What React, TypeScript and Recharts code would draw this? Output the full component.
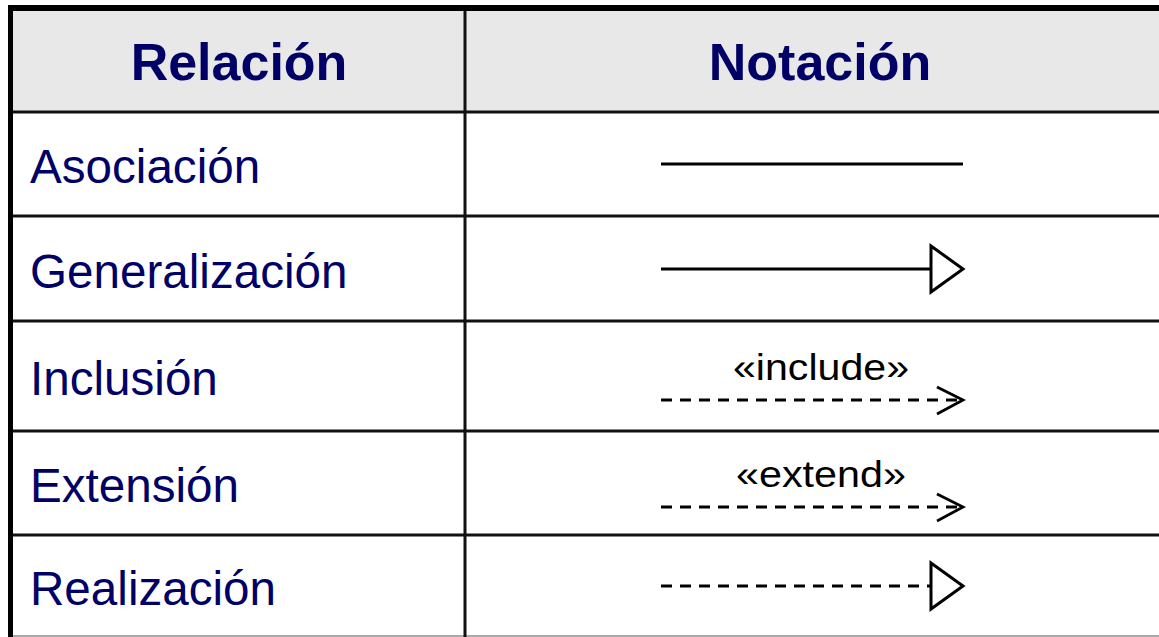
import { ComposedChart, XAxis, YAxis, Scatter, ReferenceLine, ReferenceArea } from 'recharts';

const headers = ['Relación', 'Notación'];
const relations = ['Asociación', 'Generalización', 'Inclusión', 'Extensión', 'Realización'];
const lineKinds = ['solid', 'solid', 'dashed', 'dashed', 'dashed'];
const headKinds = ['none', 'triangle', 'open', 'open', 'triangle'];
const stereotypes = ['', '', '«include»', '«extend»', ''];

// layout (pixel space, the axes map 1:1 onto the svg)
const W = 1159;
const H = 637;
const rowEdges = [11, 112, 216, 321, 431, 535, 636];
const colSplit = 465;
const headerCenters = [239, 820];
const lineStart = 661;
const lineEnd = 963;
const stereoCenter = 821;
const navy = '#000066';
const font = '"Liberation Sans", Arial, Helvetica, sans-serif';

const rowCenter = (i: number) => (rowEdges[i + 1] + rowEdges[i + 2]) / 2;

const headerData = headers.map((h, i) => ({ x: headerCenters[i], y: 80, label: h }));
const labelData = relations.map((r, i) => ({ x: 30, y: rowCenter(i) + 19, label: r }));
const notationData = relations.map((r, i) => ({
  x: lineStart,
  y: Math.round(rowCenter(i) + (stereotypes[i] ? 24 : 0)),
  kind: lineKinds[i],
  head: headKinds[i],
  stereo: stereotypes[i],
}));

const HeaderText = (props: any) => (
  <text x={props.cx} y={props.cy} textAnchor="middle" fill={navy} fontFamily={font} fontWeight="bold" fontSize={52}>
    {props.payload.label}
  </text>
);

const RowText = (props: any) => (
  <text x={props.cx} y={props.cy} textAnchor="start" fill={navy} fontFamily={font} fontSize={47.6}>
    {props.payload.label}
  </text>
);

const Notation = (props: any) => {
  const { cx, cy, payload } = props;
  const len = lineEnd - lineStart;
  const tip = cx + len;
  const dash = payload.kind === 'dashed' ? '11 8' : undefined;
  let shaftEnd = tip;
  let head = null;
  if (payload.head === 'triangle') {
    shaftEnd = tip - 32;
    head = (
      <polygon
        points={`${tip - 32},${cy - 23} ${tip},${cy} ${tip - 32},${cy + 23}`}
        fill="#fff"
        stroke="#000"
        strokeWidth={3}
      />
    );
  } else if (payload.head === 'open') {
    shaftEnd = tip - 4;
    head = (
      <polyline
        points={`${tip - 26},${cy - 13} ${tip},${cy} ${tip - 26},${cy + 14}`}
        fill="none"
        stroke="#000"
        strokeWidth={2.8}
      />
    );
  }
  const textW = payload.stereo === '«include»' ? 176 : 170;
  return (
    <g>
      <line x1={cx} y1={cy} x2={shaftEnd} y2={cy} stroke="#000" strokeWidth={3} strokeDasharray={dash} />
      {head}
      {payload.stereo ? (
        <text
          x={cx + (stereoCenter - lineStart)}
          y={cy - 20}
          textAnchor="middle"
          fill="#000"
          fontFamily={font}
          fontSize={37}
          textLength={textW}
          lengthAdjust="spacingAndGlyphs"
        >
          {payload.stereo}
        </text>
      ) : null}
    </g>
  );
};

export default function App() {
  return (
    <div style={{ position: 'absolute', left: 0, top: 0, background: '#fff' }}>
      <ComposedChart width={W} height={H} margin={{ top: 0, right: 0, bottom: 0, left: 0 }}>
        <XAxis type="number" dataKey="x" domain={[0, W]} allowDataOverflow hide />
        <YAxis type="number" dataKey="y" domain={[0, H]} allowDataOverflow reversed hide />
        <ReferenceArea x1={13} x2={W} y1={rowEdges[0]} y2={rowEdges[1]} fill="#e8e8e8" fillOpacity={1} stroke="none" />
        {rowEdges.slice(1, 6).map((y) => (
          <ReferenceLine key={y} segment={[{ x: 13, y }, { x: W, y }]} stroke="#111" strokeWidth={3} />
        ))}
        <ReferenceLine segment={[{ x: 13, y: rowEdges[6] }, { x: W, y: rowEdges[6] }]} stroke="#aaa" strokeWidth={2} />
        <ReferenceLine segment={[{ x: colSplit, y: rowEdges[0] }, { x: colSplit, y: H }]} stroke="#111" strokeWidth={3} />
        <ReferenceLine segment={[{ x: 8, y: 8 }, { x: W, y: 8 }]} stroke="#000" strokeWidth={6} />
        <ReferenceLine segment={[{ x: 10.5, y: 5 }, { x: 10.5, y: H }]} stroke="#000" strokeWidth={5} />
        <Scatter data={headerData} shape={HeaderText} isAnimationActive={false} />
        <Scatter data={labelData} shape={RowText} isAnimationActive={false} />
        <Scatter data={notationData} shape={Notation} isAnimationActive={false} />
      </ComposedChart>
    </div>
  );
}
